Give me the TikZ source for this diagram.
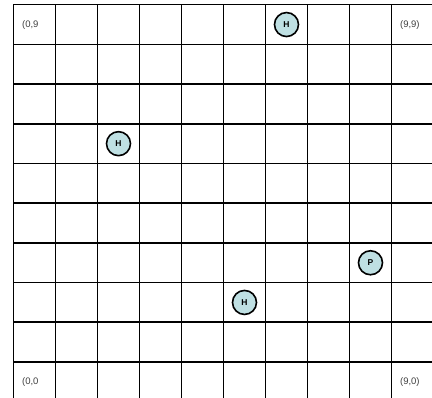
\documentclass[tikz,border=0pt]{standalone}
\usepackage{fontspec}
\setmainfont{Liberation Sans}
\usetikzlibrary{positioning}
\definecolor{agentblue}{HTML}{BFE0E3}
\begin{document}
\begin{tikzpicture}[x=42pt,y=39.7pt,
agent/.style={circle,draw,line width=1.6pt,fill=agentblue,minimum size=24pt,inner sep=0pt,
 font=\fontsize{8.5}{9}\selectfont\bfseries},
cornerlbl/.style={anchor=west,inner sep=0pt,text=black!75,font=\fontsize{9.5}{10}\selectfont}]
 \path[use as bounding box,clip] (-0.3214,0.0932) rectangle (9.9643,10.1184);

 % the board
 \foreach \X in {0,...,10} {
 \draw[line width=1.6pt] (\X,0) -- (\X,10);
 \draw[line width=1.6pt] (0,\X) -- (10,\X);
 }

 % corner cells
 \node[cornerlbl] (c09) at (0.2,9.5) {(0,9};
 \node[cornerlbl] (c99) at (9.2,9.5) {(9,9)};
 \node[cornerlbl] (c00) at (0.2,0.5) {(0,0};
 \node[cornerlbl] (c90) at (9.2,0.5) {(9,0)};

 % agents on the board
 \node[agent] (h1) at (6.5,9.5) {H};
 \node[agent] (h2) at (2.5,6.5) {H};
 \node[agent] (h3) at (5.5,2.5) {H};
 \node[agent] (p) at (8.5,3.5) {P};

\end{tikzpicture}
\end{document}
